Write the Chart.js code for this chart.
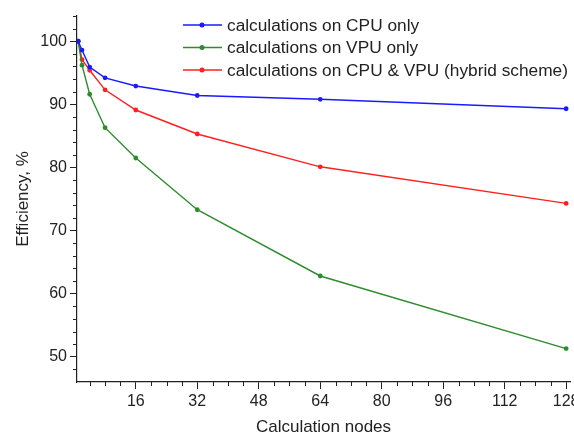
<!DOCTYPE html>
<html>
<head>
<meta charset="utf-8">
<script src="https://cdn.jsdelivr.net/npm/chart.js@4.4.0/dist/chart.umd.min.js"></script>
<style>
  html, body { margin: 0; padding: 0; background: #fff; }
  #wrap { width: 574px; height: 435px; }
</style>
</head>
<body>
<div id="wrap"><canvas id="mycanvas"></canvas></div>
<script>
// data
var nodes = [1, 2, 4, 8, 16, 32, 64, 128];
var cpuOnly = [100, 98.6, 95.9, 94.2, 92.9, 91.4, 90.8, 89.3];
var vpuOnly = [100, 96.2, 91.6, 86.3, 81.5, 73.3, 62.8, 51.3];
var hybrid = [100, 97.1, 95.4, 92.3, 89.1, 85.3, 80.1, 74.3];
var xTicks = [16, 32, 48, 64, 80, 96, 112, 128];
var yTicks = [50, 60, 70, 80, 90, 100];
var names = ['calculations on CPU only', 'calculations on VPU only', 'calculations on CPU & VPU (hybrid scheme)'];

var toPoints = function(vals) {
  return nodes.map(function(n, i) { return {x: n, y: vals[i]}; });
};

var mkSet = function(label, vals, color) {
  return {
    label: label,
    data: toPoints(vals),
    borderColor: color,
    backgroundColor: color,
    borderWidth: 1.4,
    pointRadius: 2.4,
    pointBorderWidth: 0,
    tension: 0
  };
};

var fam = '"Liberation Sans", Arial, sans-serif';

// minor ticks + legend drawn by hand
var extras = {
  id: 'extras',
  afterDraw: function(chart) {
    var c = chart.ctx, xs = chart.scales.x, ys = chart.scales.y;
    var area = chart.chartArea;
    c.save();
    c.strokeStyle = '#222';
    c.lineWidth = 1;
    c.beginPath();
    for (var v = 4; v <= 128; v += 4) {
      if (v % 16 == 0) continue;
      var px = Math.round(xs.getPixelForValue(v)) + 0.5;
      c.moveTo(px, area.bottom); c.lineTo(px, area.bottom + 4);
    }
    for (var w = 48; w <= 104; w += 2) {
      if (w % 10 == 0) continue;
      var py = Math.round(ys.getPixelForValue(w)) + 0.5;
      c.moveTo(area.left, py); c.lineTo(area.left - 4, py);
    }
    c.stroke();

    var rows = [25, 47.5, 70];
    c.font = '17.3px ' + fam;
    c.textBaseline = 'middle';
    chart.data.datasets.forEach(function(ds, i) {
      var y = rows[i];
      c.strokeStyle = ds.borderColor;
      c.lineWidth = 1.4;
      c.beginPath(); c.moveTo(183, y); c.lineTo(222, y); c.stroke();
      c.fillStyle = ds.borderColor;
      c.beginPath(); c.arc(202, y, 2.5, 0, Math.PI * 2); c.fill();
      c.fillStyle = '#222';
      c.fillText(ds.label, 227, y + 1);
    });
    c.restore();
  }
};

var ctx = document.getElementById('mycanvas');
var chart = new Chart(ctx, {
  type: 'line',
  data: {
    datasets: [
      mkSet(names[0], cpuOnly, '#1a1aff'),
      mkSet(names[1], vpuOnly, '#2e8b2e'),
      mkSet(names[2], hybrid, '#ff2020')
    ]
  },
  options: {
    responsive: true,
    maintainAspectRatio: false,
    animation: false,
    layout: { padding: { top: 16, right: 4, left: 0, bottom: 0 } },
    plugins: { legend: { display: false }, tooltip: { enabled: false } },
    scales: {
      x: {
        type: 'linear',
        min: 0.7,
        max: 129,
        afterBuildTicks: function(s) { s.ticks = xTicks.map(function(v) { return {value: v}; }); },
        afterFit: function(s) { s.height = 53; s.paddingRight = 0; s.paddingLeft = 0; },
        grid: { drawOnChartArea: false, tickLength: 7, color: '#222' },
        border: { color: '#222', width: 1.2 },
        ticks: { color: '#222', font: { size: 16, family: fam }, padding: 3, maxRotation: 0 },
        title: { display: true, text: 'Calculation nodes', color: '#222', font: { size: 17, family: fam }, padding: { top: 6, bottom: -3 } }
      },
      y: {
        min: 46,
        max: 104,
        afterBuildTicks: function(s) { s.ticks = yTicks.map(function(v) { return {value: v}; }); },
        afterFit: function(s) { s.width = 77; },
        grid: { drawOnChartArea: false, tickLength: 7, color: '#222' },
        border: { color: '#222', width: 1.2 },
        ticks: { color: '#222', font: { size: 16, family: fam }, padding: 3 },
        title: { display: true, text: 'Efficiency, %', color: '#222', font: { size: 17, family: fam }, padding: { top: 13, bottom: 0 } }
      }
    }
  },
  plugins: [extras]
});
</script>
</body>
</html>
